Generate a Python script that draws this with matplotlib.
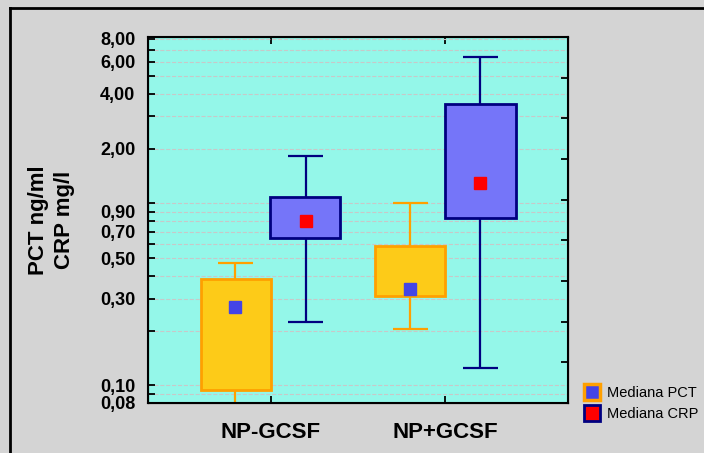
import matplotlib.pyplot as plt
from matplotlib.lines import Line2D

grupos = ["NP-GCSF", "NP+GCSF"]

# PCT (ng/ml)
pct_min = [0.07, 0.204]
pct_q1 = [0.094, 0.311]
pct_med = [0.271, 0.34]
pct_q3 = [0.383, 0.585]
pct_max = [0.473, 1.0]

# CRP (mg/l)
crp_min = [0.224, 0.124]
crp_q1 = [0.647, 0.832]
crp_med = [0.80, 1.30]
crp_q3 = [1.09, 3.50]
crp_max = [1.82, 6.33]

ticks_y = [0.08, 0.09, 0.1, 0.2, 0.3, 0.4, 0.5, 0.6, 0.7, 0.8, 0.9,
           1, 2, 3, 4, 5, 6, 7, 8]
etiquetas_y = {0.08: "0,08", 0.1: "0,10", 0.3: "0,30", 0.5: "0,50", 0.7: "0,70",
               0.9: "0,90", 2: "2,00", 4: "4,00", 6: "6,00", 8: "8,00"}

plt.rcParams['font.family'] = ['Liberation Sans', 'DejaVu Sans']

fig = plt.figure(figsize=(7.04, 4.53), dpi=100)
fig.patch.set_facecolor('#d4d4d4')
ax = fig.add_axes([148/704, 1-403/453, 420/704, 366/453])
ax.set_facecolor('#94f7e9')
ax.set_yscale('log')
ax.set_ylim(0.08, 8.2)
ax.set_xlim(0.3, 2.7)

ancho = 0.4
tapa = 0.2
x = [1, 2]

def caja(pos, mn, q1, med, q3, mx, relleno, borde, marca):
    for i in range(len(pos)):
        ax.vlines(pos[i], q3[i], mx[i], color=borde, lw=1.6, zorder=2)
        ax.vlines(pos[i], mn[i], q1[i], color=borde, lw=1.6, zorder=2)
        ax.hlines([mn[i], mx[i]], pos[i]-tapa/2, pos[i]+tapa/2, color=borde, lw=1.6, zorder=2)
        ax.bar(pos[i], q3[i]-q1[i], bottom=q1[i], width=ancho, color=relleno,
               edgecolor=borde, linewidth=2, zorder=3)
        ax.plot(pos[i], med[i], 's', color=marca, markersize=8, zorder=4)

caja([p - ancho/2 for p in x], pct_min, pct_q1, pct_med, pct_q3, pct_max,
     '#fdcb18', '#ffa000', '#4444e6')
caja([p + ancho/2 for p in x], crp_min, crp_q1, crp_med, crp_q3, crp_max,
     '#7575f9', '#000080', '#ff0000')

ax.set_yticks(ticks_y)
ax.set_yticklabels([etiquetas_y.get(t, "") for t in ticks_y], fontsize=13, fontweight='bold')
ax.minorticks_off()
ax.yaxis.grid(True, linestyle='--', color='#c8c8c8', lw=0.8)
ax.set_axisbelow(True)
ax.set_xticks(x)
ax.set_xticklabels(grupos, fontsize=16, fontweight='bold')
ax.tick_params(axis='both', direction='in', length=5, width=1.3, top=True)
ax.tick_params(axis='x', pad=14)
ax.tick_params(axis='y', pad=9)
for s in ax.spines.values():
    s.set_linewidth(1.5)

ax.set_ylabel("PCT ng/ml\nCRP mg/l", fontsize=16, fontweight='bold', labelpad=18,
              linespacing=1.35)

# marcas del eje derecho
ax2 = ax.twinx()
ax2.set_ylim(0, 9)
ax2.set_yticks(range(10))
ax2.set_yticklabels([])
ax2.tick_params(axis='y', direction='in', length=5, width=1.3)

marcas = [
    Line2D([], [], marker='s', ls='none', markerfacecolor='#4444e6',
           markeredgecolor='#ffa000', markeredgewidth=2.5, markersize=12),
    Line2D([], [], marker='s', ls='none', markerfacecolor='#ff0000',
           markeredgecolor='#000080', markeredgewidth=2, markersize=11),
]
fig.legend(marcas, ["Mediana PCT", "Mediana CRP"], loc='upper left',
           bbox_to_anchor=(572/704, 1-373/453), frameon=False, fontsize=10.5,
           handlelength=1, handletextpad=0.5, labelspacing=0.45)

# marco de la figura
fig.add_artist(Line2D([10/704, 10/704], [0, 1-8/453], color='black', lw=2))
fig.add_artist(Line2D([10/704, 1], [1-8/453, 1-8/453], color='black', lw=2))

fig.savefig("out.png", dpi=100)
